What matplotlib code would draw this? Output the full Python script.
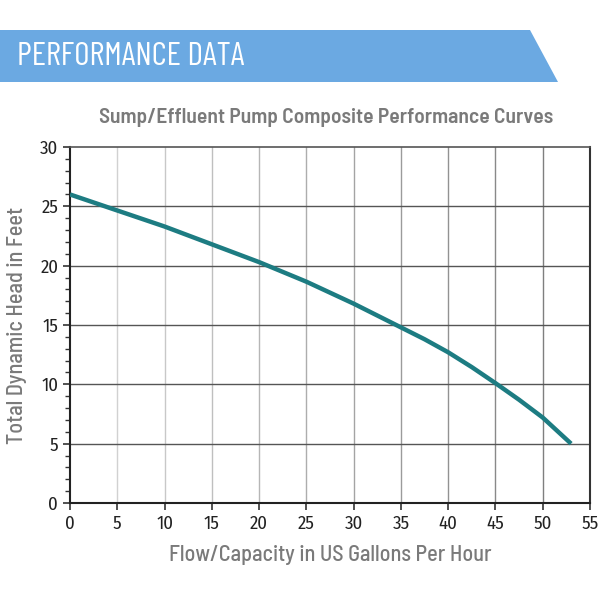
import matplotlib
matplotlib.use("Agg")
import matplotlib.pyplot as plt
from matplotlib.patches import Polygon
from matplotlib.ticker import MultipleLocator

flow = [0, 5, 10, 15, 20, 25, 30, 35, 37.5, 40, 42.5, 45, 47.5, 50, 53]
head = [26.0, 24.65, 23.3, 21.8, 20.3, 18.65, 16.8, 14.8, 13.8, 12.7, 11.45, 10.1, 8.7, 7.2, 5.0]
x_ticks = [0, 5, 10, 15, 20, 25, 30, 35, 40, 45, 50, 55]
y_ticks = [0, 5, 10, 15, 20, 25, 30]

header = "PERFORMANCE DATA"
title = "Sump/Effluent Pump Composite Performance Curves"
xlabel = "Flow/Capacity in US Gallons Per Hour"
ylabel = "Total Dynamic Head in Feet"

head_fam = ["Barlow Condensed", "Roboto Condensed", "DejaVu Sans"]
lab_fam = ["Barlow Semi Condensed", "Roboto Condensed", "DejaVu Sans"]
tick_fam = ["Fira Sans Condensed", "Roboto Condensed", "DejaVu Sans"]

fig = plt.figure(figsize=(6, 6), dpi=100)
fig.patch.set_facecolor("white")

banner = Polygon([[0, 1 - 30/600], [530/600, 1 - 30/600], [558/600, 1 - 82/600], [0, 1 - 82/600]],
                 closed=True, transform=fig.transFigure, facecolor="#6ba9e2", edgecolor="none")
fig.patches.append(banner)
fig.text(17/600, 1 - 57/600, header, color="white", fontsize=24, family=head_fam,
         fontweight="normal", va="center", ha="left")

fig.text(326/600, 1 - 117/600, title, color="#7a7a7a", fontsize=15.5, family=lab_fam,
         fontweight="semibold", ha="center", va="center")

ax = fig.add_axes([70/600, 1 - 503/600, 520/600, 356/600])
ax.set_xlim(0, 55)
ax.set_ylim(0, 30)

for i, xv in enumerate(x_ticks[1:-1]):
    shade = 0.82 - 0.32 * i / (len(x_ticks) - 3)
    ax.axvline(xv, color=(shade, shade, shade), lw=1.0, zorder=1)
for yv in y_ticks[1:-1]:
    ax.axhline(yv, color="#555555", lw=1.0, zorder=1)

ax.plot(flow, head, color="#1d7c82", lw=3.2, solid_capstyle="butt",
        solid_joinstyle="round", zorder=3)

ax.set_xticks(x_ticks)
ax.set_yticks(y_ticks)
ax.yaxis.set_minor_locator(MultipleLocator(1))
ax.tick_params(axis="both", which="major", direction="out", length=5, width=1.2,
               color="#333333", labelsize=13.5, labelcolor="#222222")
ax.tick_params(axis="y", which="minor", direction="out", length=3.5, width=1.0, color="#333333")
for lab in ax.get_xticklabels() + ax.get_yticklabels():
    lab.set_family(tick_fam)
    lab.set_fontweight("normal")

ax.spines["left"].set_color("#222222")
ax.spines["left"].set_linewidth(1.5)
ax.spines["bottom"].set_color("#222222")
ax.spines["bottom"].set_linewidth(1.5)
ax.spines["top"].set_color("#555555")
ax.spines["top"].set_linewidth(1.2)
ax.spines["right"].set_color("#333333")
ax.spines["right"].set_linewidth(1.5)

ax.set_xlabel(xlabel, color="#7a7a7a", fontsize=16, family=lab_fam,
              fontweight="medium", labelpad=9)
ax.set_ylabel(ylabel, color="#7a7a7a", fontsize=16, family=lab_fam,
              fontweight="medium", labelpad=9)

fig.savefig("out.png", dpi=100, facecolor="white")
